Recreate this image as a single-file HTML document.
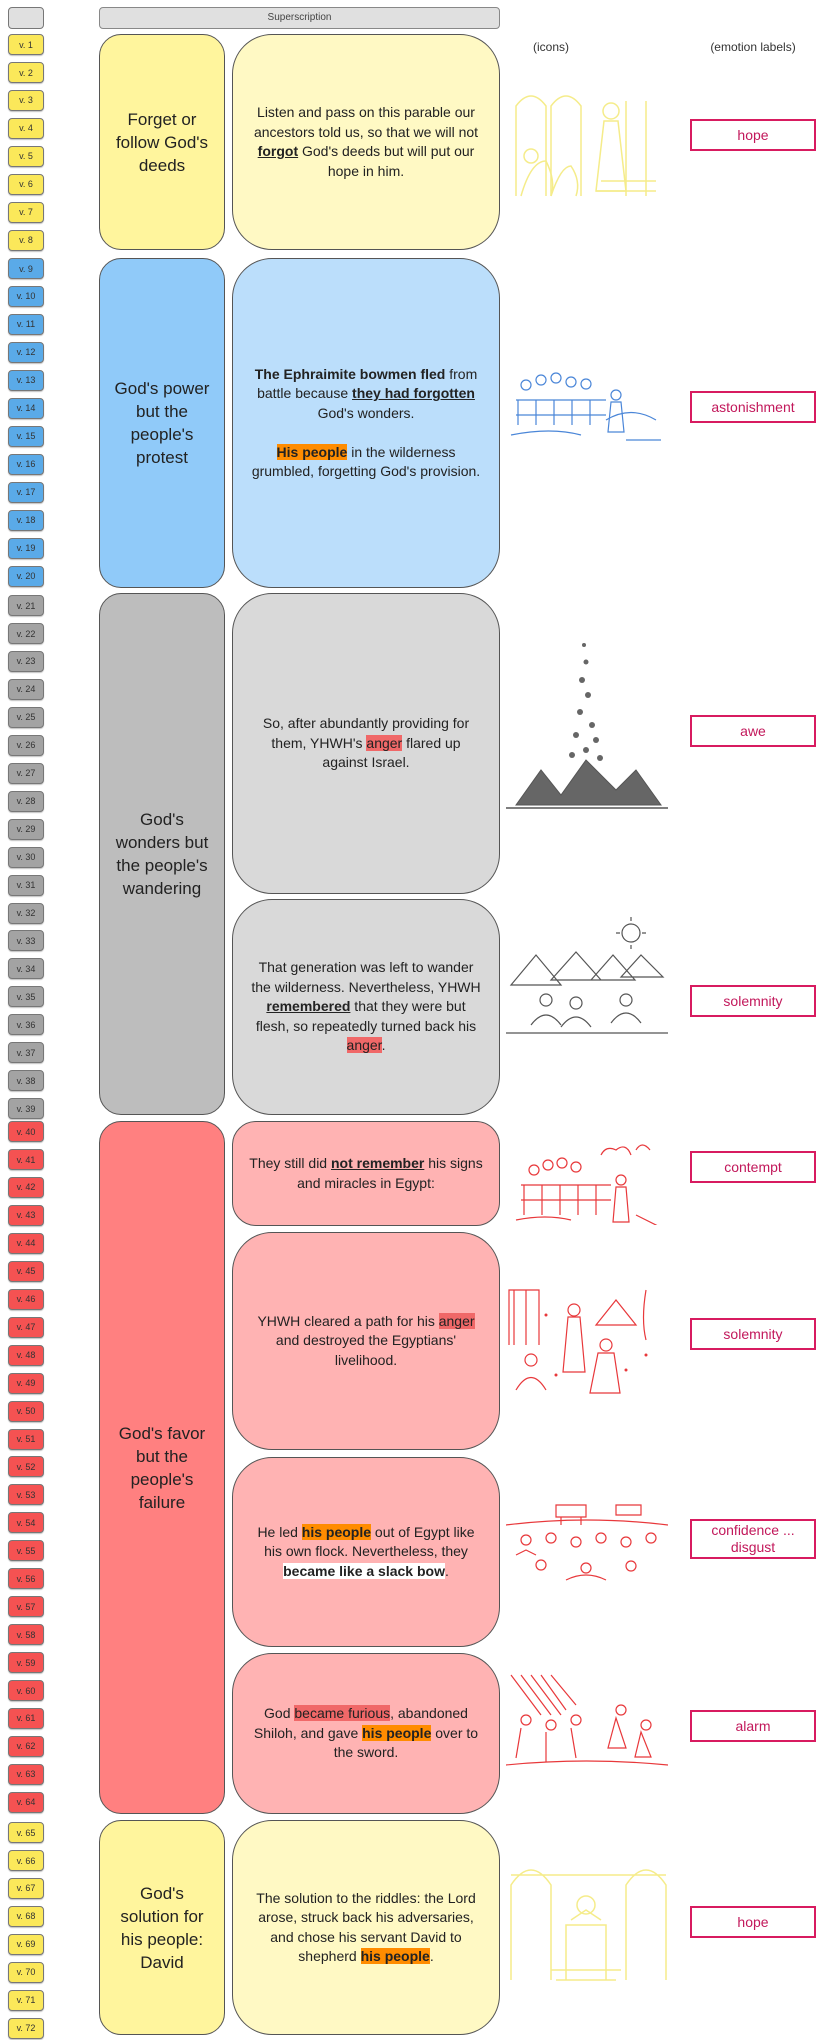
<!DOCTYPE html>
<html><head><meta charset="utf-8"><style>
body{margin:0;width:825px;height:2040px;background:#fff;position:relative;font-family:"Liberation Sans",sans-serif;overflow:hidden}
.a{position:absolute;box-sizing:border-box}
.v{position:absolute;left:8px;width:36px;height:21px;border:1px solid #777;border-radius:4px;font-size:9px;color:#333;display:flex;align-items:center;justify-content:center;box-sizing:border-box;box-shadow:0 1px 1px rgba(0,0,0,.25)}
.c2{position:absolute;left:99px;width:126px;border:1px solid #555;border-radius:22px;display:flex;align-items:center;justify-content:center;text-align:center;font-size:17px;line-height:23px;color:#222;box-sizing:border-box;padding:0 14px}
.c3{position:absolute;left:232px;width:268px;border:1px solid #555;border-radius:40px;display:flex;align-items:center;justify-content:center;text-align:center;font-size:14px;line-height:19.5px;color:#222;box-sizing:border-box;padding:0 16px}
.e{position:absolute;left:690px;width:126px;height:32px;border:2px solid #d81b60;color:#c2185b;font-size:14px;display:flex;align-items:center;justify-content:center;text-align:center;box-sizing:border-box;line-height:17px}
.o{background:#ff8c00;font-weight:bold}
.r{background:#f06868}
.ic{position:absolute;left:506px;width:162px}
</style></head><body>
<div class="a" style="left:8px;top:7px;width:36px;height:22px;background:#e0e0e0;border:1px solid #777;border-radius:4px"></div>
<div class="a" style="left:99px;top:7px;width:401px;height:22px;background:#e0e0e0;border:1px solid #888;border-radius:4px;font-size:10px;color:#444;text-align:center;line-height:20px">Superscription</div>
<div class="a" style="left:520px;top:40px;width:62px;text-align:center;font-size:12px;color:#333">(icons)</div>
<div class="a" style="left:690px;top:40px;width:126px;text-align:center;font-size:12px;color:#333">(emotion labels)</div>

<div class="c2" style="top:34px;height:216px;background:#fff59d"><div>Forget or follow God's deeds</div></div>
<div class="c3" style="top:34px;height:216px;background:#fff9c4"><div>Listen and pass on this parable our ancestors told us, so that we will not <b><u>forgot</u></b> God's deeds but will put our hope in him.</div></div>

<div class="c2" style="top:258px;height:330px;background:#90caf9"><div>God's power but the people's protest</div></div>
<div class="c3" style="top:258px;height:330px;background:#bbdefb"><div><b>The Ephraimite bowmen fled</b> from battle because <b><u>they had forgotten</u></b> God's wonders.<br><br><span class="o">His people</span> in the wilderness grumbled, forgetting God's provision.</div></div>

<div class="c2" style="top:593px;height:522px;background:#bdbdbd"><div>God's wonders but the people's wandering</div></div>
<div class="c3" style="top:593px;height:301px;background:#d9d9d9"><div>So, after abundantly providing for them, YHWH's <span class="r">anger</span> flared up against Israel.</div></div>
<div class="c3" style="top:899px;height:216px;background:#d9d9d9"><div>That generation was left to wander the wilderness. Nevertheless, YHWH <b><u>remembered</u></b> that they were but flesh, so repeatedly turned back his <span class="r">anger</span>.</div></div>

<div class="c2" style="top:1121px;height:693px;background:#ff8080"><div>God's favor but the people's failure</div></div>
<div class="c3" style="top:1121px;height:105px;background:#ffb3b3;border-radius:24px"><div>They still did <b><u>not remember</u></b> his signs and miracles in Egypt:</div></div>
<div class="c3" style="top:1232px;height:218px;background:#ffb3b3"><div>YHWH cleared a path for his <span class="r">anger</span> and destroyed the Egyptians' livelihood.</div></div>
<div class="c3" style="top:1457px;height:190px;background:#ffb3b3"><div>He led <span class="o">his people</span> out of Egypt like his own flock. Nevertheless, they <b style="background:#fff">became like a slack bow</b>.</div></div>
<div class="c3" style="top:1653px;height:161px;background:#ffb3b3"><div>God <span class="r">became furious</span>, abandoned Shiloh, and gave <span class="o">his people</span> over to the sword.</div></div>

<div class="c2" style="top:1820px;height:215px;background:#fff59d"><div>God's solution for his people: David</div></div>
<div class="c3" style="top:1820px;height:215px;background:#fff9c4"><div>The solution to the riddles: the Lord arose, struck back his adversaries, and chose his servant David to shepherd <span class="o">his people</span>.</div></div>

<div class="e" style="top:119px">hope</div>
<div class="e" style="top:391px">astonishment</div>
<div class="e" style="top:715px">awe</div>
<div class="e" style="top:985px">solemnity</div>
<div class="e" style="top:1151px">contempt</div>
<div class="e" style="top:1318px">solemnity</div>
<div class="e" style="top:1519px;height:40px">confidence ...<br>disgust</div>
<div class="e" style="top:1710px">alarm</div>
<div class="e" style="top:1906px">hope</div>

<svg class="ic" style="top:86px" height="115" viewBox="0 0 162 115" fill="none" stroke="#f5ec8a" stroke-width="1.5"><path d="M10 110V20q15-20 30 0v90M45 110V20q15-20 30 0v90M120 110V15M140 110V15"/><circle cx="105" cy="25" r="8"/><path d="M98 35l-8 70h30l-8-70z"/><circle cx="25" cy="70" r="7"/><path d="M15 110q10-35 25-35q10 20 5 35M45 110q10-30 20-30q10 15 5 30"/><path d="M90 105h60M95 95h55"/></svg>
<svg class="ic" style="top:360px" height="100" viewBox="0 0 162 100" fill="none" stroke="#4a86d8" stroke-width="1.2"><g><circle cx="20" cy="25" r="5"/><circle cx="35" cy="20" r="5"/><circle cx="50" cy="18" r="5"/><circle cx="65" cy="22" r="5"/><circle cx="80" cy="24" r="5"/></g><path d="M10 40h90M10 55h90M12 40v25M30 40v25M48 40v25M66 40v25M84 40v25"/><circle cx="110" cy="35" r="5"/><path d="M105 42l-3 30h16l-3-30z"/><path d="M5 75q40-8 70 0M100 60q25-15 50 0M120 80h35"/></svg>
<svg class="ic" style="top:640px" height="175" viewBox="0 0 162 175" fill="#666" stroke="#555"><g stroke="none"><circle cx="78" cy="5" r="2"/><circle cx="80" cy="22" r="2.5"/><circle cx="76" cy="40" r="3"/><circle cx="82" cy="55" r="3"/><circle cx="74" cy="72" r="3"/><circle cx="86" cy="85" r="3"/><circle cx="70" cy="95" r="3"/><circle cx="90" cy="100" r="3"/><circle cx="80" cy="110" r="3"/><circle cx="66" cy="115" r="3"/><circle cx="94" cy="118" r="3"/></g><path d="M10 165l25-35 20 25 25-35 30 30 20-20 25 35z"/><path d="M0 168h162" stroke-width="1.5"/></svg>
<svg class="ic" style="top:915px" height="130" viewBox="0 0 162 130" fill="none" stroke="#555" stroke-width="1.2"><circle cx="125" cy="18" r="9"/><path d="M125 2v4M125 30v4M110 18h4M136 18h4"/><path d="M5 70l25-30 25 30zM45 65l25-28 25 28zM85 65l22-25 22 25zM115 62l20-22 22 22z"/><circle cx="40" cy="85" r="6"/><circle cx="70" cy="88" r="6"/><circle cx="120" cy="85" r="6"/><path d="M25 110q15-20 30 0M55 112q15-20 30 0M105 108q15-20 30 0M0 118h162"/></svg>
<svg class="ic" style="top:1125px" height="100" viewBox="0 0 162 100" fill="none" stroke="#e8383b" stroke-width="1.2"><path d="M95 30q5-10 15-5q10-8 15 5M130 25q6-10 14 0"/><g><circle cx="28" cy="45" r="5"/><circle cx="42" cy="40" r="5"/><circle cx="56" cy="38" r="5"/><circle cx="70" cy="42" r="5"/></g><path d="M15 60h90M15 75h90M18 60v30M36 60v30M54 60v30M72 60v30M90 60v30"/><circle cx="115" cy="55" r="5"/><path d="M110 62l-3 35h16l-3-35zM10 95q30-6 55 0M130 90l30 15"/></svg>
<svg class="ic" style="top:1285px" height="110" viewBox="0 0 162 110" fill="none" stroke="#e8383b" stroke-width="1.2"><path d="M3 60V5h30v55M8 5v55M20 5v55"/><path d="M90 40l20-25 20 25zM140 5q-5 30 0 50"/><circle cx="68" cy="25" r="6"/><path d="M62 32l-5 55h22l-5-55z"/><circle cx="100" cy="60" r="6"/><path d="M92 68l-8 40h30l-6-40z"/><circle cx="25" cy="75" r="6"/><path d="M10 105q15-25 30 0"/><g fill="#e8383b" stroke="none"><circle cx="40" cy="30" r="1.5"/><circle cx="120" cy="85" r="1.5"/><circle cx="140" cy="70" r="1.5"/><circle cx="50" cy="90" r="1.5"/></g></svg>
<svg class="ic" style="top:1480px" height="110" viewBox="0 0 162 110" fill="none" stroke="#e8383b" stroke-width="1.2"><path d="M50 25h30v12H50zM55 37v8M75 37v8M110 25h25v10h-25z"/><path d="M0 45q80-10 162 0"/><g><circle cx="20" cy="60" r="5"/><circle cx="45" cy="58" r="5"/><circle cx="70" cy="62" r="5"/><circle cx="95" cy="58" r="5"/><circle cx="120" cy="62" r="5"/><circle cx="145" cy="58" r="5"/><circle cx="35" cy="85" r="5"/><circle cx="80" cy="88" r="5"/><circle cx="125" cy="86" r="5"/></g><path d="M10 75l10-5 10 5M60 100q20-10 40 0"/></svg>
<svg class="ic" style="top:1670px" height="110" viewBox="0 0 162 110" fill="none" stroke="#e8383b" stroke-width="1.2"><path d="M5 5l30 40M15 5l30 40M25 5l30 40M35 5l25 35M45 5l25 30"/><circle cx="20" cy="50" r="5"/><circle cx="45" cy="55" r="5"/><circle cx="70" cy="50" r="5"/><path d="M15 58l-5 30M40 62l0 30M65 58l5 30"/><circle cx="115" cy="40" r="5"/><circle cx="140" cy="55" r="5"/><path d="M110 48l-8 30h18zM135 62l-6 25h16z"/><path d="M0 95q80-8 162 0"/></svg>
<svg class="ic" style="top:1855px" height="130" viewBox="0 0 162 130" fill="none" stroke="#f5ec8a" stroke-width="1.5"><path d="M5 125V30q20-30 40 0v95M120 125V30q20-30 40 0v95M5 20h155"/><circle cx="80" cy="50" r="9"/><path d="M60 125V70h40v55M65 65l15-10 15 10"/><path d="M50 125h60M45 115h70"/></svg>

<div id="vv"></div>
<script>
var g=[[1,8,34,'#fbe85a'],[9,20,258,'#5aaae8'],[21,39,595,'#a3a3a3'],[40,64,1121,'#f55252'],[65,72,1822,'#fbe85a']],h='';
g.forEach(function(a){for(var i=a[0];i<=a[1];i++){var t=a[2]+(i-a[0])*27.95;h+='<div class="v" style="top:'+t.toFixed(1)+'px;background:'+a[3]+'">v. '+i+'</div>';}});
document.getElementById('vv').innerHTML=h;
</script>
</body></html>
